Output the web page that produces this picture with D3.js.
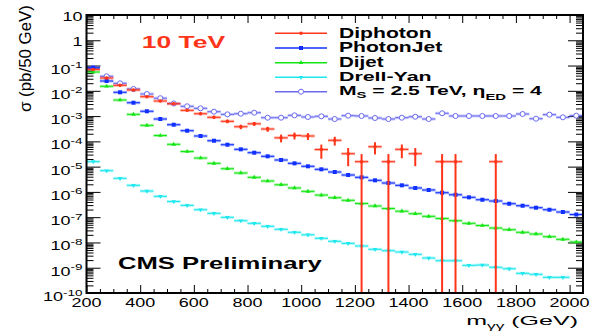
<!DOCTYPE html>
<html>
<head>
<meta charset="utf-8">
<script src="https://cdn.jsdelivr.net/npm/d3@7"></script>
<style>
  body { margin: 0; background: #fff; }
  text { font-family: "Liberation Sans", Arial, Helvetica, sans-serif; }
</style>
</head>
<body>
<svg id="chart" width="592" height="333"></svg>
<script>
// bin centres (GeV), 50 GeV bins
const massBins = [225, 275, 325, 375, 425, 475, 525, 575, 625, 675, 725, 775, 825, 875, 925,
  975, 1025, 1075, 1125, 1175, 1225, 1275, 1325, 1375, 1425, 1475, 1525, 1575, 1625, 1675,
  1725, 1775, 1825, 1875, 1925, 1975, 2025];
const binHalf = 25;

const diphoton = [0.070, 0.032, 0.0165, 0.0108, 0.00585, 0.00395, 0.00306, 0.00169, 0.00124,
  8.95e-4, 6.2e-4, 3.8e-4, 4.95e-4, 3.08e-4, 1.38e-4, 1.71e-4, 1.63e-4, 4.75e-5, 1.10e-4,
  3.24e-5, 1.57e-5, 6.14e-5, 1.57e-5, 4.84e-5, 3.24e-5, null, 1.57e-5, 1.57e-5, null, null,
  1.57e-5, null, null, null, null, null, null];
const diphotonErr = [1.05e-3, 7.1e-4, 5.1e-4, 4.1e-4, 3.0e-4, 2.5e-4, 2.2e-4, 1.6e-4, 1.4e-4,
  1.18e-4, 9.9e-5, 7.7e-5, 8.8e-5, 6.9e-5, 4.7e-5, 5.2e-5, 5.0e-5, 2.7e-5, 4.2e-5,
  2.2e-5, 1.57e-5, 3.1e-5, 1.57e-5, 2.7e-5, 2.2e-5, null, 1.57e-5, 1.57e-5, null, null,
  1.57e-5, null, null, null, null, null, null];
const photonJet = [0.082, 0.0244, 0.00873, 0.00338, 0.00155, 7.66e-4, 4.56e-4, 2.64e-4, 1.63e-4,
  1.06e-4, 7.37e-5, 4.84e-5, 3.56e-5, 2.56e-5, 1.83e-5, 1.35e-5, 1.03e-5, 7.83e-6, 6.12e-6,
  4.66e-6, 3.77e-6, 2.87e-6, 2.25e-6, 1.82e-6, 1.43e-6, 1.19e-6, 9.3e-7, 7.7e-7, 6.1e-7,
  4.9e-7, 4.36e-7, 3.41e-7, 2.84e-7, 2.37e-7, 1.97e-7, 1.6e-7, 1.27e-7];
const dijet = [0.0555, 0.0151, 0.00432, 0.00117, 4.31e-4, 1.70e-4, 7.63e-5, 3.96e-5, 2.19e-5,
  1.35e-5, 8.27e-6, 5.6e-6, 3.77e-6, 2.7e-6, 1.92e-6, 1.43e-6, 1.05e-6, 7.5e-7, 5.89e-7,
  4.65e-7, 3.47e-7, 2.77e-7, 2.20e-7, 1.72e-7, 1.37e-7, 1.08e-7, 8.85e-8, 7.24e-8, 5.71e-8,
  4.68e-8, 3.72e-8, 3.19e-8, 2.52e-8, 2.16e-8, 1.69e-8, 1.33e-8, 1.04e-8];
const drellYan = [1.57e-5, 6.9e-6, 3.45e-6, 1.82e-6, 1.08e-6, 6.69e-7, 4.17e-7, 2.94e-7, 1.97e-7,
  1.42e-7, 9.87e-8, 7.24e-8, 5.71e-8, 4.35e-8, 3.31e-8, 2.52e-8, 2.0e-8, 1.46e-8, 1.11e-8,
  9.2e-9, 7.23e-9, 5.35e-9, 4.71e-9, 4.18e-9, 3.39e-9, 2.42e-9, 1.89e-9, 1.89e-9, 1.24e-9,
  1.28e-9, 1.04e-9, 9.1e-10, 6.0e-10, 5.48e-10, 4.17e-10, 4.17e-10, null];
const signal = [0.080, 0.0375, 0.0198, 0.0118, 0.00748, 0.0051, 0.00315, 0.00244, 0.00203,
  0.00149, 0.00117, 0.00124, 0.00136, 8.63e-4, 8.63e-4, 0.00107, 9.2e-4, 9.8e-4, 7.66e-4,
  0.00104, 0.00101, 8.4e-4, 7.66e-4, 8.63e-4, 9.4e-4, 7.66e-4, 0.00129, 0.00101, 0.00101,
  0.00101, 0.00101, 0.00101, 0.00121, 7.87e-4, 0.00114, 8.95e-4, 0.00104];

const xLabels = [200, 400, 600, 800, 1000, 1200, 1400, 1600, 1800, 2000];
const yExponents = [1, 0, -1, -2, -3, -4, -5, -6, -7, -8, -9, -10];

const svg = d3.select("#chart");
svg.append("rect").attr("width", 592).attr("height", 333).attr("fill", "#fff");

const x = d3.scaleLinear().domain([200, 2050]).range([86.5, 583]);
const y = d3.scaleLog().domain([1e-10, 10]).range([293, 15]);

// text helper: squeezes/stretches text horizontally (ROOT canvas was resized)
function addText(px, py, width, build, o = {}) {
  const g = svg.append("g");
  const t = g.append("text")
    .attr("text-anchor", o.anchor || "start")
    .attr("font-size", o.size || 12)
    .attr("font-weight", o.weight || "normal")
    .attr("fill", o.color || "#000");
  build(t);
  const sx = width ? width / t.node().getBBox().width : (o.sx || 1);
  g.attr("transform", `translate(${px},${py})` + (o.rotate ? ` rotate(${o.rotate})` : "") + ` scale(${sx},1)`);
  return g;
}

// ---- ticks via d3 axes
const xMinor = d3.range(250, 2050, 50).filter(v => v % 200 !== 0);
const yMinor = [];
for (let e = -10; e <= 0; e++) for (let k = 2; k <= 9; k++) yMinor.push(k * Math.pow(10, e));
const yMajor = yExponents.map(e => Math.pow(10, e));

function ticks(axis, tx, ty) {
  svg.append("g").attr("transform", `translate(${tx},${ty})`)
    .call(axis.tickFormat(""))
    .call(g => g.select(".domain").remove())
    .call(g => g.selectAll(".tick line").attr("stroke", "#000").attr("stroke-width", 1));
}
ticks(d3.axisTop(x).tickValues(xLabels).tickSize(8), 0, 293);
ticks(d3.axisTop(x).tickValues(xMinor).tickSize(4), 0, 293);
ticks(d3.axisBottom(x).tickValues(xLabels).tickSize(8), 0, 15);
ticks(d3.axisBottom(x).tickValues(xMinor).tickSize(4), 0, 15);
ticks(d3.axisRight(y).tickValues(yMajor).tickSize(14), 86.5, 0);
ticks(d3.axisRight(y).tickValues(yMinor).tickSize(7), 86.5, 0);
ticks(d3.axisLeft(y).tickValues(yMajor).tickSize(15), 583, 0);
ticks(d3.axisLeft(y).tickValues(yMinor).tickSize(7), 583, 0);

// ---- series
function drawSeries(values, color, symbol, size, open, errs) {
  const pts = massBins.map((m, i) => ({ m, v: values[i], e: errs ? errs[i] : null }))
    .filter(d => d.v != null);
  const g = svg.append("g");
  g.selectAll("line.halo").data(pts).join("line")
    .attr("x1", d => x(d.m - binHalf)).attr("x2", d => x(d.m + binHalf))
    .attr("y1", d => y(d.v)).attr("y2", d => y(d.v))
    .attr("stroke", color).attr("stroke-width", 3).attr("stroke-opacity", 0.35);
  g.selectAll("line.bar").data(pts).join("line")
    .attr("x1", d => x(d.m - binHalf)).attr("x2", d => x(d.m + binHalf))
    .attr("y1", d => y(d.v)).attr("y2", d => y(d.v))
    .attr("stroke", color).attr("stroke-width", 1);
  if (errs) {
    g.selectAll("line.err").data(pts.filter(d => d.e != null)).join("line")
      .attr("x1", d => x(d.m)).attr("x2", d => x(d.m))
      .attr("y1", d => y(d.v + d.e))
      .attr("y2", d => (d.v - d.e > 1e-10 ? y(d.v - d.e) : y(1e-10)))
      .attr("stroke", color).attr("stroke-width", 2);
  }
  g.selectAll("path").data(pts).join("path")
    .attr("transform", d => `translate(${x(d.m)},${y(d.v)})` + (symbol === "down" ? " rotate(180)" : ""))
    .attr("d", d3.symbol().type(symbol === "down" ? d3.symbolTriangle : symbol).size(size))
    .attr("fill", open ? "#fff" : color)
    .attr("stroke", open ? color : "none");
}

const cRed = "#ff3418", cBlue = "#1030ff", cGreen = "#14e614", cCyan = "#1ee8ee", cPurple = "#6a6af0";
drawSeries(signal, cPurple, d3.symbolCircle, 20, true);
drawSeries(drellYan, cCyan, "down", 9, false);
drawSeries(dijet, cGreen, d3.symbolTriangle, 9, false);
drawSeries(photonJet, cBlue, d3.symbolSquare, 16, false);
drawSeries(diphoton, cRed, d3.symbolCircle, 10, false, diphotonErr);

// ---- frame
svg.append("rect").attr("x", 86.5).attr("y", 15).attr("width", 583 - 86.5).attr("height", 293 - 15)
  .attr("fill", "none").attr("stroke", "#000").attr("stroke-width", 2);

// ---- tick labels
xLabels.forEach(v => addText(x(v), 307, null, t => t.text(v), { anchor: "middle", size: 12, sx: 1.5 }));
yExponents.forEach(e => {
  const ty = y(Math.pow(10, e));
  if (e >= 0) {
    addText(82.5, ty + 5.5, null, t => t.text(e === 1 ? "10" : "1"), { anchor: "end", size: 12, sx: 1.5 });
  } else {
    addText(82.5, ty + 8, null, t => {
      t.append("tspan").text("10");
      t.append("tspan").attr("font-size", 9).attr("dy", -5.5).text("-" + (-e));
    }, { anchor: "end", size: 12, sx: 1.5 });
  }
});

// ---- axis titles
addText(30.5, 112, 107, t => t.text("σ (pb/50 GeV)"), { size: 16.5, rotate: -90 });
addText(578, 325, 112, t => {
  t.append("tspan").text("m");
  t.append("tspan").attr("font-size", 9).attr("dy", 3.5).text("γγ");
  t.append("tspan").attr("dy", -3.5).text("  (GeV)");
}, { anchor: "end", size: 13 });

// ---- annotations
addText(141.7, 48.3, 83.5, t => t.text("10 TeV"), { size: 16.5, weight: "bold", color: cRed });
addText(118, 268.5, 205, t => t.text("CMS Preliminary"), { size: 16.5, weight: "bold" });

// ---- legend
const legendNames = ["Diphoton", "PhotonJet", "Dijet", "Drell-Yan"];
const legendColors = [cRed, cBlue, cGreen, cCyan, cPurple];
const legendSymbols = [d3.symbolCircle, d3.symbolSquare, d3.symbolTriangle, "down", d3.symbolCircle];
const legendSizes = [10, 16, 9, 9, 20];
const legendLineY = [33.3, 48, 62.7, 77.3, 91.7];
const legendTextY = [37.5, 52.3, 66.8, 81.3, 95];
const legendTextW = [92.7, 103.7, 45, 92.7, 203.7];

legendColors.forEach((c, i) => {
  svg.append("line").attr("x1", 275).attr("x2", 327).attr("y1", legendLineY[i]).attr("y2", legendLineY[i])
    .attr("stroke", c).attr("stroke-width", 1.5);
  const s = legendSymbols[i];
  svg.append("path")
    .attr("transform", `translate(301,${legendLineY[i]})` + (s === "down" ? " rotate(180)" : ""))
    .attr("d", d3.symbol().type(s === "down" ? d3.symbolTriangle : s).size(legendSizes[i]))
    .attr("fill", i === 4 ? "#fff" : c).attr("stroke", i === 4 ? c : "none");
  if (i < 4) {
    addText(339, legendTextY[i], legendTextW[i], t => t.text(legendNames[i]), { size: i === 3 ? 13 : 14, weight: "bold" });
  } else {
    addText(339, legendTextY[i], legendTextW[i], t => {
      t.append("tspan").text("M");
      t.append("tspan").attr("font-size", 9.5).attr("dy", 3).text("S");
      t.append("tspan").attr("dy", -3).text(" = 2.5 TeV, η");
      t.append("tspan").attr("font-size", 9.5).attr("dy", 4.5).text("ED");
      t.append("tspan").attr("dy", -4.5).text(" = 4");
    }, { size: 13.5, weight: "bold" });
  }
});
</script>
</body>
</html>
